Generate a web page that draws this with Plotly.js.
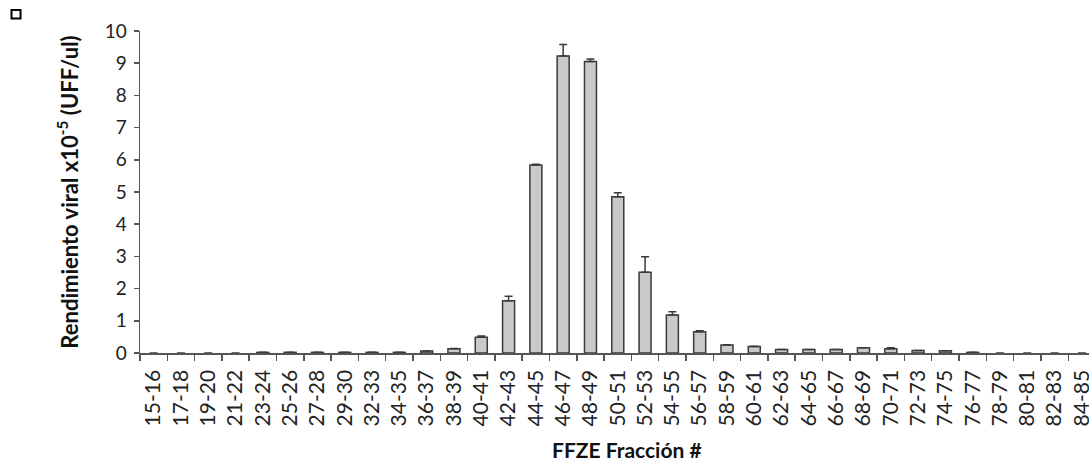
<!DOCTYPE html>
<html>
<head>
<meta charset="utf-8">
<script src="https://cdn.plot.ly/plotly-3.0.1.min.js"></script>
<style>html,body{margin:0;padding:0;background:#fff;}#chart{width:1089px;height:465px;}</style>
</head>
<body>
<div id="chart"></div>
<script>
const categories = ["15-16","17-18","19-20","21-22","23-24","25-26","27-28","29-30","32-33","34-35","36-37","38-39","40-41","42-43","44-45","46-47","48-49","50-51","52-53","54-55","56-57","58-59","60-61","62-63","64-65","66-67","68-69","70-71","72-73","74-75","76-77","78-79","80-81","82-83","84-85"];
const yieldValues = [0,0,0,0,0.02,0.02,0.02,0.02,0.02,0.02,0.06,0.13,0.49,1.62,5.84,9.22,9.05,4.85,2.51,1.18,0.66,0.25,0.2,0.11,0.11,0.11,0.16,0.13,0.08,0.07,0.02,0,0,0,0];
const yieldErrors = [0,0,0,0,0,0,0,0,0,0,0,0.01,0.04,0.14,0.02,0.36,0.08,0.13,0.48,0.1,0.03,0.01,0.01,0,0,0,0,0.03,0,0,0,0,0,0,0];

const FONT = "Lato, 'Open Sans', sans-serif";
const trace = {
  type: "bar",
  x: categories,
  y: yieldValues,
  width: 0.44,
  marker: {
    color: "#c9c9c9",
    line: {
      color: yieldValues.map(v => v > 0 ? "#3a3a3a" : "rgba(0,0,0,0)"),
      width: yieldValues.map(v => v > 0 ? 1.5 : 0)
    }
  },
  error_y: {type: "data", symmetric: false, array: yieldErrors.map(e => e > 0 ? e : null), arrayminus: yieldErrors.map(e => e > 0 ? 0 : null), color: "#3a3a3a", thickness: 1.5, width: 4},
  hoverinfo: "x+y"
};
const layout = {
  width: 1089, height: 465,
  margin: {l: 140, r: 0, t: 31, b: 112, pad: 0},
  paper_bgcolor: "#fff", plot_bgcolor: "#fff",
  showlegend: false,
  font: {family: FONT, color: "#222"},
  xaxis: {
    type: "category",
    range: [-0.5, 34.26],
    tickmode: "linear", tick0: 0, dtick: 1,
    showline: true, linecolor: "#555", linewidth: 1.5,
    ticks: "outside", tickson: "boundaries", ticklen: 6, tickcolor: "#555", tickwidth: 1.5,
    tickangle: -90, tickfont: {family: FONT, size: 21, color: "#222"},
    ticklabelstandoff: 7,
    showgrid: false, zeroline: false
  },
  yaxis: {
    range: [0, 10],
    tickvals: [0,1,2,3,4,5,6,7,8,9,10],
    showline: true, linecolor: "#555", linewidth: 1.5,
    ticks: "outside", ticklen: 5, tickcolor: "#555", tickwidth: 1.5,
    tickfont: {family: FONT, size: 19, color: "#222"},
    ticklabelstandoff: 3,
    showgrid: false, zeroline: false,
    title: {text: "<b>Rendimiento viral x10<sup>-5</sup> (UFF/ul)</b>", font: {family: FONT, size: 22, color: "#111"}, standoff: 20}
  },
  annotations: [{
    text: "<b>FFZE Fracción #</b>", xref: "paper", yref: "paper",
    x: 0.513, y: -0.3, xanchor: "center", yanchor: "middle", showarrow: false,
    font: {family: FONT, size: 21, color: "#111"}
  }],
  shapes: [{
    type: "rect", xref: "paper", yref: "paper",
    x0: -0.1354, x1: -0.1259, y0: 1.0388, y1: 1.0652,
    line: {color: "#000", width: 2}, fillcolor: "#fff"
  }]
};
Plotly.newPlot("chart", [trace], layout, {staticPlot: true, displayModeBar: false});
</script>
</body>
</html>
